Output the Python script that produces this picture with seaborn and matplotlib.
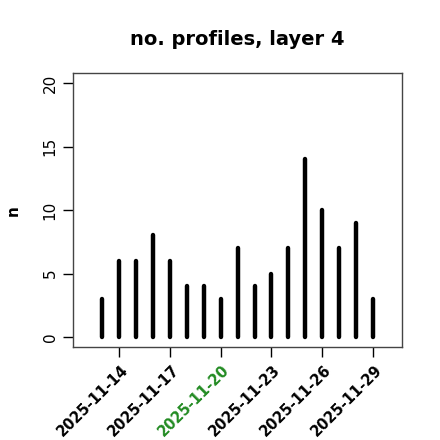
"""no. profiles per day, layer 4 (R type='h' style)."""

import matplotlib as mpl
import matplotlib.dates as mdates
import matplotlib.pyplot as plt
import pandas as pd
import seaborn as sns

dates = pd.date_range("2025-11-13", "2025-11-29", freq="D")
counts = [3, 6, 6, 8, 6, 4, 4, 3, 7, 4, 5, 7, 14, 10, 7, 9, 3]
tick_dates = pd.to_datetime(["2025-11-14", "2025-11-17", "2025-11-20",
                             "2025-11-23", "2025-11-26", "2025-11-29"])
highlight = "2025-11-20"
y_ticks = [0, 5, 10, 15, 20]

sns.set_style("white")
mpl.rcParams["font.family"] = ["DejaVu Sans"]
for key in ["text.color", "axes.labelcolor", "xtick.color", "ytick.color"]:
    mpl.rcParams[key] = "black"

df = pd.DataFrame({"date": dates, "n": counts})

fig = plt.figure(figsize=(4.4, 4.4), dpi=100)
ax = fig.add_axes([0.166, 0.211, 0.748, 0.623])

x = mdates.date2num(df["date"])
ax.vlines(x, 0, df["n"], color="black", linewidth=3.2, capstyle="round")

x0 = mdates.date2num(pd.Timestamp("2025-11-12"))
x1 = mdates.date2num(pd.Timestamp("2025-11-30"))
pad = (x1 - x0) * 0.04
ax.set_xlim(x0 - pad, x1 + pad)
ax.set_ylim(-0.8, 20.8)

ax.set_xticks(mdates.date2num(tick_dates))
ax.set_xticklabels([])
for d in tick_dates:
    txt = d.strftime("%Y-%m-%d")
    ax.annotate(txt, xy=(mdates.date2num(d), 0), xycoords=("data", "axes fraction"),
                xytext=(1, -11), textcoords="offset points",
                rotation=45, ha="right", va="top", rotation_mode="anchor",
                fontweight="bold", fontsize=10.5,
                color="#228B22" if txt == highlight else "black")

ax.set_yticks(y_ticks)
ax.set_yticklabels([str(v) for v in y_ticks], rotation=90, va="center", fontsize=11)

ax.tick_params(axis="both", direction="out", length=7, width=1, color="black",
               bottom=True, left=True)
ax.tick_params(axis="y", pad=4)

for s in ax.spines.values():
    s.set_visible(True)
    s.set_color("#444444")
    s.set_linewidth(1)

ax.set_ylabel("n", fontweight="bold", fontsize=11, labelpad=16)
ax.set_title("no. profiles, layer 4", fontweight="bold", fontsize=14, pad=20)

fig.savefig("out.png", dpi=100)
